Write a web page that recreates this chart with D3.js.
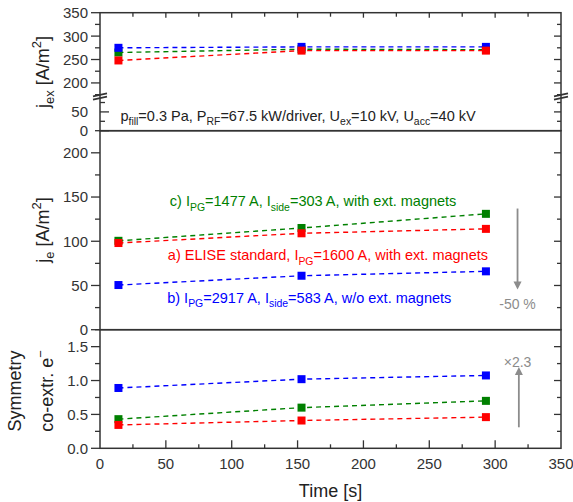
<!DOCTYPE html>
<html>
<head>
<meta charset="utf-8">
<script src="https://cdn.jsdelivr.net/npm/d3@7"></script>
<style>
  body { margin: 0; background: #fff; }
  svg { font-family: "Liberation Sans", Arial, sans-serif; }
</style>
</head>
<body>
<svg id="chart" width="573" height="502"></svg>
<script>
// data
let times = [14, 153, 293];
let jexRed = [248, 269, 269];
let jexGreen = [265, 272, 271];
let jexBlue = [275, 277, 277];
let jeRed = [98, 109, 114];
let jeGreen = [100.5, 115, 131];
let jeBlue = [50.5, 61, 66];
let symRed = [0.345, 0.41, 0.46];
let symGreen = [0.43, 0.60, 0.70];
let symBlue = [0.89, 1.02, 1.075];
let xTicks = [0, 50, 100, 150, 200, 250, 300, 350];
let jexUpperTicks = [200, 250, 300, 350];
let jexLowerTicks = [0, 50];
let jeTicks = [0, 50, 100, 150, 200];
let symTicks = [0, 0.5, 1.0, 1.5];

let red = '#ff0000', green = '#008000', blue = '#0000ff', grey = '#8c8c8c', axisCol = '#333';

let svg = d3.select('#chart');
let left = 100, right = 561;

let x = d3.scaleLinear().domain([0, 350]).range([left, right]);
// top panel is a broken axis: two segments
let yTopU = d3.scaleLinear().domain([171, 350]).range([96.5, 12.7]);
let yTopL = d3.scaleLinear().domain([0, 91]).range([130.7, 96.5]);
let yMid = d3.scaleLinear().domain([0, 225]).range([329.7, 130.7]);
let yBot = d3.scaleLinear().domain([0, 1.75]).range([448.3, 329.7]);

function range25(a, b, step) {
  let out = [];
  for (let v = a; v <= b + 1e-9; v += step) out.push(+v.toFixed(4));
  return out;
}

// frame of each panel
function frame(y0, y1) {
  svg.append('rect')
    .attr('x', left).attr('y', y0)
    .attr('width', right - left).attr('height', y1 - y0)
    .attr('fill', 'none').attr('stroke', axisCol).attr('stroke-width', 1.5);
}
frame(yTopU.range()[1], yTopL.range()[0]);
frame(yMid.range()[1], yMid.range()[0]);
frame(yBot.range()[1], yBot.range()[0]);

// left/right ticks of a y segment
function yTicks(scale, majors, minorStep, fmt, leftOut) {
  let dom = scale.domain();
  let minors = range25(Math.ceil(dom[0] / minorStep) * minorStep, dom[1], minorStep);
  let g = svg.append('g').attr('stroke', axisCol).attr('stroke-width', 1.3);
  minors.forEach(v => {
    let isMajor = majors.some(m => Math.abs(m - v) < 1e-6);
    let yy = scale(v);
    let lenL = isMajor ? 9 : 5;
    let lenR = isMajor ? 7 : 4;
    if (Math.abs(yy - scale(dom[0])) > 0.5 || isMajor) {
      g.append('line').attr('x1', left).attr('x2', leftOut ? left - lenL : left + lenL)
        .attr('y1', yy).attr('y2', yy);
    }
    if (Math.abs(yy - scale.range()[0]) > 0.5 && Math.abs(yy - scale.range()[1]) > 0.5) {
      g.append('line').attr('x1', right).attr('x2', right - lenR)
        .attr('y1', yy).attr('y2', yy);
    }
  });
  svg.append('g').selectAll('text').data(majors).join('text')
    .attr('x', left - 12).attr('y', d => scale(d))
    .attr('dy', '0.36em')
    .attr('text-anchor', 'end')
    .attr('font-size', 15).attr('fill', axisCol)
    .text(d => fmt(d));
}
yTicks(yTopU, jexUpperTicks, 25, d3.format('d'), true);
yTicks(yTopL, jexLowerTicks, 25, d3.format('d'), false);
yTicks(yMid, jeTicks, 25, d3.format('d'), true);
yTicks(yBot, symTicks, 0.25, d3.format('.1f'), true);

// x ticks: top of top panel and bottom of bottom panel
let xg = svg.append('g').attr('stroke', axisCol).attr('stroke-width', 1.3);
range25(25, 325, 25).forEach(v => {
  let isMajor = v % 50 === 0;
  xg.append('line').attr('x1', x(v)).attr('x2', x(v))
    .attr('y1', yTopU.range()[1]).attr('y2', yTopU.range()[1] + (isMajor ? 5 : 4));
  xg.append('line').attr('x1', x(v)).attr('x2', x(v))
    .attr('y1', yBot.range()[0]).attr('y2', yBot.range()[0] - (isMajor ? 8 : 4));
});
svg.append('g').selectAll('text').data(xTicks).join('text')
  .attr('x', d => x(d)).attr('y', yBot.range()[0] + 21)
  .attr('text-anchor', 'middle')
  .attr('font-size', 15).attr('fill', axisCol)
  .text(d => d);

// axis break marks
[left, right].forEach(xx => {
  [-1.6, 1.6].forEach(off => {
    svg.append('line')
      .attr('x1', xx - 7).attr('x2', xx + 7)
      .attr('y1', 96.5 + off + 1.5).attr('y2', 96.5 + off - 1.5)
      .attr('stroke', axisCol).attr('stroke-width', 1.6);
  });
});

// series
function series(scale, vals, col) {
  let line = d3.line().x((d, i) => x(times[i])).y(d => scale(d));
  svg.append('path').datum(vals)
    .attr('d', line).attr('fill', 'none')
    .attr('stroke', col).attr('stroke-width', 1.4)
    .attr('stroke-dasharray', '5,4');
  svg.append('g').selectAll('rect').data(vals).join('rect')
    .attr('x', (d, i) => x(times[i]) - 4).attr('y', d => scale(d) - 4)
    .attr('width', 8).attr('height', 8)
    .attr('fill', col);
}
series(yTopU, jexGreen, green);
series(yTopU, jexBlue, blue);
series(yTopU, jexRed, red);
series(yMid, jeGreen, green);
series(yMid, jeBlue, blue);
series(yMid, jeRed, red);
series(yBot, symGreen, green);
series(yBot, symBlue, blue);
series(yBot, symRed, red);

// rich text with sub/superscripts: parts = [[text, 'sub'|'sup'|null], ...]
function richText(g, parts, size) {
  let t = g.append('text').attr('font-size', size);
  let shift = 0;
  parts.forEach(p => {
    let ts = t.append('tspan').text(p[0]);
    let want = p[1] === 'sub' ? size * 0.3 : p[1] === 'sup' ? -size * 0.42 : 0;
    if (want !== shift) ts.attr('dy', want - shift);
    shift = want;
    if (p[1]) ts.attr('font-size', size * 0.72);
  });
  return t;
}

let noteSize = 14.5;
richText(svg.append('g').attr('transform', `translate(${x(15.5)},${yTopL(40) + 5})`).attr('fill', '#222'),
  [['p', null], ['fill', 'sub'], ['=0.3 Pa, P', null], ['RF', 'sub'], ['=67.5 kW/driver, U', null],
   ['ex', 'sub'], ['=10 kV, U', null], ['acc', 'sub'], ['=40 kV', null]], noteSize);

richText(svg.append('g').attr('transform', `translate(${x(53)},${yMid(145) + 5})`).attr('fill', green),
  [['c) I', null], ['PG', 'sub'], ['=1477 A, I', null], ['side', 'sub'], ['=303 A, with ext. magnets', null]], noteSize);
richText(svg.append('g').attr('transform', `translate(${x(51.5)},${yMid(84) + 5})`).attr('fill', red),
  [['a) ELISE standard, I', null], ['PG', 'sub'], ['=1600 A, with ext. magnets', null]], noteSize);
richText(svg.append('g').attr('transform', `translate(${x(51)},${yMid(36) + 5})`).attr('fill', blue),
  [['b) I', null], ['PG', 'sub'], ['=2917 A, I', null], ['side', 'sub'], ['=583 A, w/o ext. magnets', null]], noteSize);

// arrows
svg.append('defs').append('marker')
  .attr('id', 'head').attr('viewBox', '0 0 10 10')
  .attr('refX', 5).attr('refY', 5)
  .attr('markerWidth', 4.5).attr('markerHeight', 4.5)
  .attr('orient', 'auto-start-reverse')
  .append('path').attr('d', 'M0,0 L10,5 L0,10 z').attr('fill', grey);

svg.append('line')
  .attr('x1', x(317)).attr('x2', x(317))
  .attr('y1', yMid(137)).attr('y2', yMid(50))
  .attr('stroke', grey).attr('stroke-width', 1.8)
  .attr('marker-end', 'url(#head)');
svg.append('text').attr('x', x(317)).attr('y', yMid(29) + 5)
  .attr('text-anchor', 'middle').attr('font-size', 14).attr('fill', grey)
  .text('-50 %');

svg.append('line')
  .attr('x1', x(318)).attr('x2', x(318))
  .attr('y1', yBot(0.31)).attr('y2', yBot(1.14))
  .attr('stroke', grey).attr('stroke-width', 1.8)
  .attr('marker-end', 'url(#head)');
svg.append('text').attr('x', x(317)).attr('y', yBot(1.28) + 5)
  .attr('text-anchor', 'middle').attr('font-size', 14).attr('fill', grey)
  .text('\u00d72.3');

// axis titles
let t1 = svg.append('g').attr('transform', 'translate(49,72) rotate(-90)').attr('fill', '#222');
richText(t1, [['j', null], ['ex', 'sub'], [' [A/m', null], ['2', 'sup'], [']', null]], 18)
  .attr('text-anchor', 'middle');
let t2 = svg.append('g').attr('transform', 'translate(49,230) rotate(-90)').attr('fill', '#222');
richText(t2, [['j', null], ['e', 'sub'], [' [A/m', null], ['2', 'sup'], [']', null]], 18)
  .attr('text-anchor', 'middle');
let t3 = svg.append('g').attr('transform', 'translate(21,391) rotate(-90)').attr('fill', '#222');
t3.append('text').attr('text-anchor', 'middle').attr('font-size', 18).text('Symmetry');
let t4 = svg.append('g').attr('transform', 'translate(53,391) rotate(-90)').attr('fill', '#222');
richText(t4, [['co-extr. e', null], ['\u2212', 'sup']], 18).attr('text-anchor', 'middle');

svg.append('text').attr('x', (left + right) / 2).attr('y', 497)
  .attr('text-anchor', 'middle').attr('font-size', 18).attr('fill', '#222')
  .text('Time [s]');
</script>
</body>
</html>
